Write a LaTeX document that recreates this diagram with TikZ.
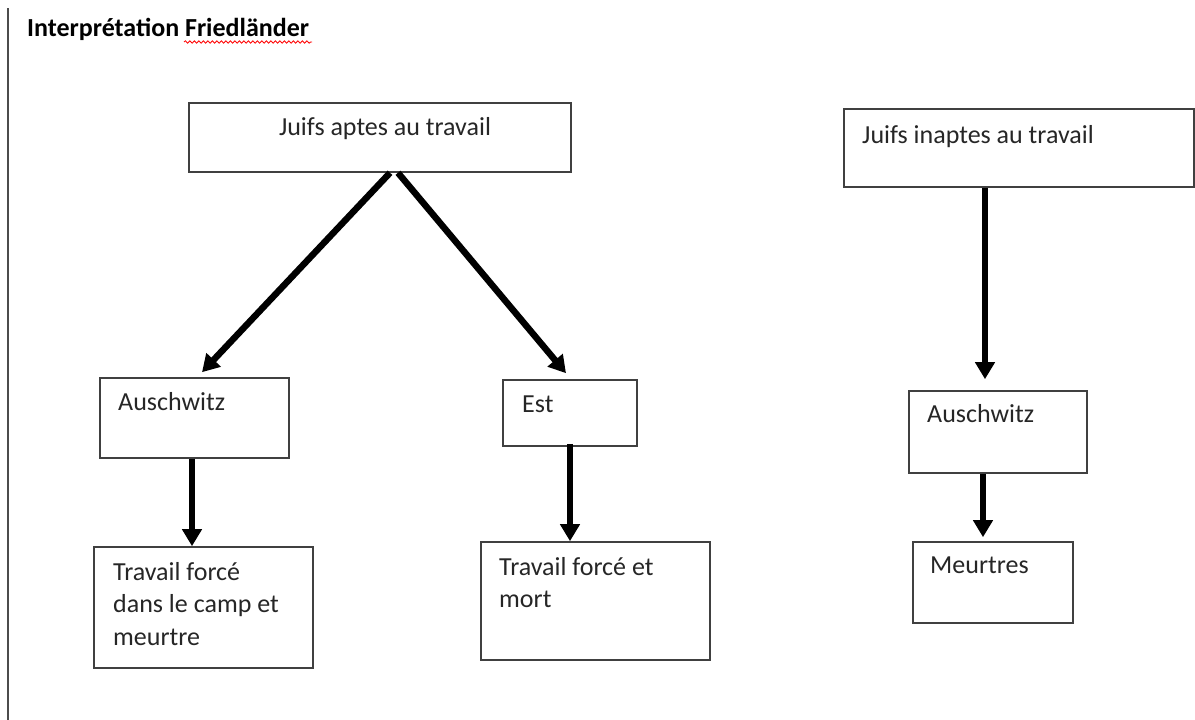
\documentclass[tikz,border=0pt]{standalone}
\usepackage{fontspec}
\setmainfont{Carlito}
\usetikzlibrary{arrows.meta,decorations.pathmorphing}
\definecolor{boxc}{HTML}{404040}
\definecolor{txt}{HTML}{262626}
\tikzset{
  box/.style={draw=boxc, line width=1.6pt, inner sep=0pt},
  lbl/.style={anchor=base west, inner sep=0pt, text=txt, font=\fontsize{26}{32}\selectfont},
  arr/.style={line width=6.5pt, black, -{Triangle[length=17pt,width=19pt]}},
}
\begin{document}
\begin{tikzpicture}[x=1pt,y=-1pt]
\useasboundingbox (0,0) rectangle (1195,720);
\draw[gray!60!black, line width=1.5pt] (8,8) -- (8,720);

% title
\node[lbl, text=black, font=\bfseries\fontsize{26}{32}\selectfont] (title) at (27,36) {Interprétation Friedländer};
\draw[red, line width=0.8pt, decorate, decoration={snake, amplitude=1.2pt, segment length=4.5pt}] (184,42) -- (312,42);

% boxes
\node[box, minimum width=382pt, minimum height=69pt] (apt) at (380,137.5) {};
\node[box, minimum width=350pt, minimum height=78pt] (inapt) at (1019,148) {};
\node[box, minimum width=189pt, minimum height=80pt] (ausL) at (194.5,418) {};
\node[box, minimum width=134pt, minimum height=66pt] (est) at (570,413) {};
\node[box, minimum width=178pt, minimum height=82pt] (ausR) at (998,432) {};
\node[box, minimum width=160pt, minimum height=81pt] (meur) at (993,582.5) {};
\node[box, minimum width=219pt, minimum height=121pt] (trL) at (203.5,607.5) {};
\node[box, minimum width=229pt, minimum height=118pt] (trE) at (595.5,601) {};

% texts
\node[lbl, anchor=base] at (385,135) {Juifs aptes au travail};
\node[lbl] at (862,143) {Juifs inaptes au travail};
\node[lbl] at (118,410) {Auschwitz};
\node[lbl] at (522,412) {Est};
\node[lbl] at (927,422) {Auschwitz};
\node[lbl] at (930,573) {Meurtres};
\node[lbl] at (113,580) {Travail forcé};
\node[lbl] at (113,612) {dans le camp et};
\node[lbl] at (113,645) {meurtre};
\node[lbl] at (499,575) {Travail forcé et};
\node[lbl] at (499,607) {mort};

% arrows
\draw[arr] (apt.south -| 390,0) -- ([yshift=5pt]ausL.north -| 202,0);
\draw[arr] (apt.south -| 398,0) -- ([yshift=6pt]est.north -| 566,0);
\draw[arr] (inapt.south -| 985,0) -- ([yshift=11pt]ausR.north -| 985,0);
\draw[arr] (ausL.south -| 192,0) -- (trL.north -| 192,0);
\draw[arr] ([yshift=3pt]est.south -| 570,0) -- (trE.north -| 570,0);
\draw[arr] (ausR.south -| 983,0) -- ([yshift=4pt]meur.north -| 983,0);
\end{tikzpicture}
\end{document}
